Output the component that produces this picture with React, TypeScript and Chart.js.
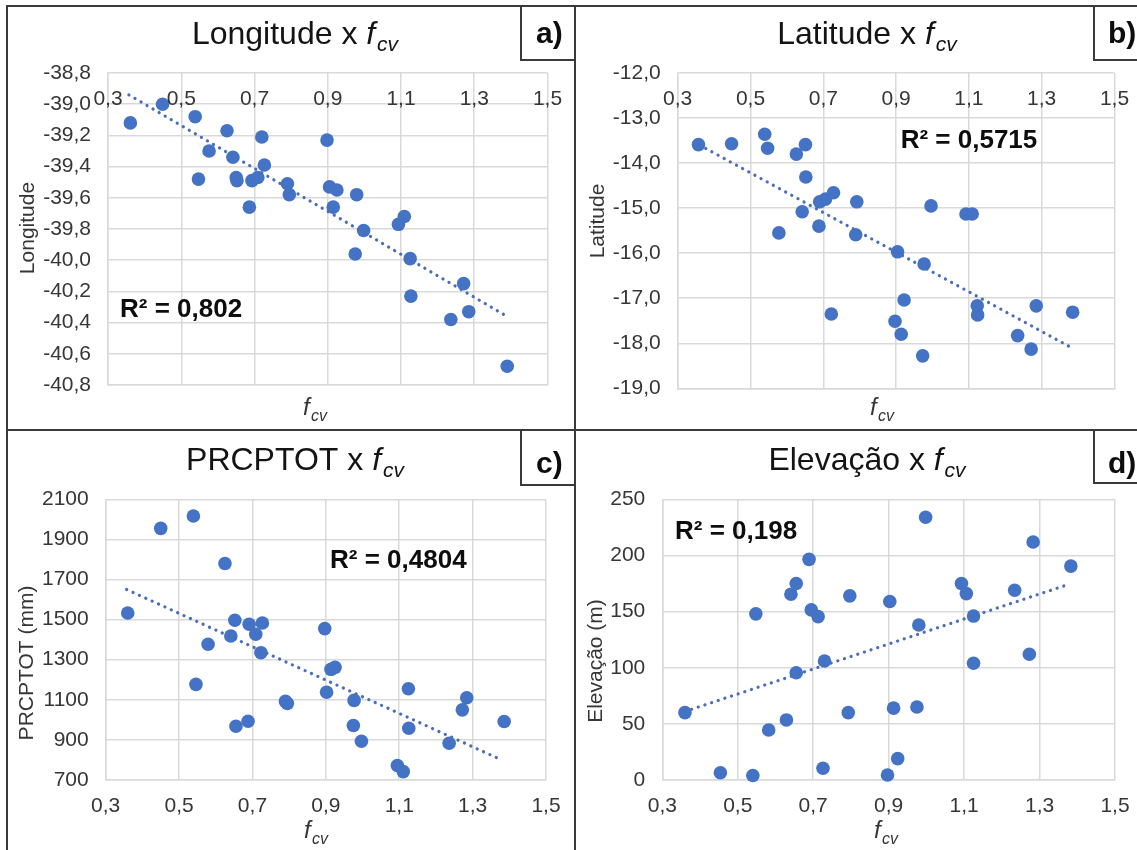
import React, { useEffect, useRef } from 'react';
import { Chart, registerables } from 'chart.js';

Chart.register(...registerables);

const FONT = '"Liberation Sans", Arial, Helvetica, sans-serif';
const BLUE = '#4472C4';
const TREND = '#4A6FB8';
const GRID = '#d9d9d9';
const TICK = '#363636';
const FRAME = '#3a3a3a';

// ---------- data ----------
const xTicksMin = 0.3;
const xTicksMax = 1.5;
const xTicksStep = 0.2;

// a) Longitude x fcv
const fcvA = [0.361, 0.449, 0.538, 0.547, 0.576, 0.625, 0.641, 0.650, 0.652, 0.686, 0.693, 0.709, 0.720, 0.727, 0.790, 0.795, 0.898, 0.905, 0.925, 0.915, 0.979, 0.975, 0.998, 1.093, 1.109, 1.125, 1.127, 1.236, 1.271, 1.285, 1.390];
const lonA = [-39.12, -39.00, -39.08, -39.48, -39.30, -39.17, -39.34, -39.47, -39.49, -39.66, -39.49, -39.47, -39.21, -39.39, -39.51, -39.58, -39.23, -39.53, -39.55, -39.66, -39.58, -39.96, -39.81, -39.77, -39.72, -39.99, -40.23, -40.38, -40.15, -40.33, -40.68];
const trendAx = [0.357, 1.382];
const trendAy = [-38.94, -40.35];

// b) Latitude x fcv
const fcvB = [0.357, 0.448, 0.539, 0.547, 0.626, 0.651, 0.652, 0.642, 0.578, 0.690, 0.706, 0.728, 0.688, 0.792, 0.789, 0.722, 0.996, 1.092, 1.109, 0.904, 0.977, 0.922, 0.897, 0.914, 0.973, 1.123, 1.124, 1.285, 1.234, 1.271, 1.385];
const latB = [-13.59, -13.57, -13.36, -13.67, -13.80, -13.59, -14.31, -15.08, -15.55, -14.86, -14.80, -14.66, -15.40, -14.86, -15.59, -17.35, -14.95, -15.13, -15.13, -15.97, -16.24, -17.04, -17.51, -17.80, -18.28, -17.17, -17.37, -17.17, -17.83, -18.13, -17.31];
const trendBx = [0.36, 1.38];
const trendBy = [-13.60, -18.09];

// c) PRCPTOT x fcv
const fcvC = [0.360, 0.450, 0.539, 0.625, 0.546, 0.579, 0.652, 0.641, 0.655, 0.688, 0.691, 0.709, 0.727, 0.723, 0.790, 0.795, 0.897, 0.914, 0.925, 0.902, 0.977, 0.975, 0.997, 1.125, 1.126, 1.095, 1.111, 1.236, 1.272, 1.284, 1.386];
const prcpC = [1533, 1955, 2017, 1780, 1177, 1377, 1497, 1418, 968, 993, 1477, 1427, 1483, 1335, 1092, 1082, 1455, 1252, 1262, 1138, 1097, 972, 893, 1155, 958, 772, 742, 883, 1050, 1110, 992];
const trendCx = [0.357, 1.379];
const trendCy = [1650, 800];

// d) Elevação x fcv
const fcvD = [0.360, 0.454, 0.540, 0.548, 0.582, 0.629, 0.641, 0.655, 0.655, 0.689, 0.695, 0.713, 0.726, 0.730, 0.797, 0.793, 0.897, 0.903, 0.913, 0.924, 0.975, 0.980, 0.998, 1.093, 1.106, 1.125, 1.125, 1.234, 1.273, 1.283, 1.383];
const elevD = [60, 6.5, 4, 148, 44.5, 53.5, 165.5, 175, 95.5, 196.5, 151.5, 145.5, 10.5, 106, 164, 60, 4.5, 159, 64, 19, 65, 138, 234, 175, 166, 146, 104, 169, 112, 212, 190.5];
const trendDx = [0.36, 1.375];
const trendDy = [61, 174];

// ---------- panel layout ----------
type Spec = {
  left: number; top: number; w: number; h: number;
  area: { l: number; t: number; r: number; b: number };
  xs: number[]; ys: number[]; tx: number[]; ty: number[];
  yMin: number; yMax: number; yStep: number; yDec: number;
  xLabelBase: number;
  title: string; titleCx: number; titleBase: number;
  yTitle: string; yTitleCy: number; yTitleBx: number;
  xTitleCx: number; xTitleBase: number;
  r2: string; r2X: number; r2Base: number;
  tag: string; tagBoxX: number; tagBoxR: number; tagBoxB: number; tagX: number; tagBase: number;
};

const panels: Spec[] = [
  {
    left: 7, top: 6, w: 568, h: 424,
    area: { l: 101, t: 67, r: 540.5, b: 379 },
    xs: fcvA, ys: lonA, tx: trendAx, ty: trendAy,
    yMin: -40.8, yMax: -38.8, yStep: 0.2, yDec: 1,
    xLabelBase: 99,
    title: 'Longitude x ', titleCx: 288, titleBase: 38,
    yTitle: 'Longitude', yTitleCy: 222, yTitleBx: 26.5,
    xTitleCx: 308, xTitleBase: 409,
    r2: 'R² = 0,802', r2X: 113, r2Base: 310.7,
    tag: 'a)', tagBoxX: 514, tagBoxR: 568, tagBoxB: 54, tagX: 529, tagBase: 37,
  },
  {
    left: 575, top: 6, w: 562, h: 424,
    area: { l: 102.7, t: 67, r: 539.5, b: 382.3 },
    xs: fcvB, ys: latB, tx: trendBx, ty: trendBy,
    yMin: -19, yMax: -12, yStep: 1, yDec: 1,
    xLabelBase: 99,
    title: 'Latitude x ', titleCx: 292, titleBase: 38,
    yTitle: 'Latitude', yTitleCy: 215, yTitleBx: 29,
    xTitleCx: 307, xTitleBase: 409,
    r2: 'R² = 0,5715', r2X: 325.7, r2Base: 142.3,
    tag: 'b)', tagBoxX: 519, tagBoxR: 562, tagBoxB: 54, tagX: 533, tagBase: 37,
  },
  {
    left: 7, top: 430, w: 568, h: 420,
    area: { l: 98.7, t: 69.3, r: 539, b: 350 },
    xs: fcvC, ys: prcpC, tx: trendCx, ty: trendCy,
    yMin: 700, yMax: 2100, yStep: 200, yDec: 0,
    xLabelBase: 381.7,
    title: 'PRCPTOT x ', titleCx: 288, titleBase: 40,
    yTitle: 'PRCPTOT (mm)', yTitleCy: 233, yTitleBx: 26,
    xTitleCx: 309, xTitleBase: 408,
    r2: 'R² = 0,4804', r2X: 323, r2Base: 138.3,
    tag: 'c)', tagBoxX: 514, tagBoxR: 568, tagBoxB: 55, tagX: 529, tagBase: 43,
  },
  {
    left: 575, top: 430, w: 562, h: 420,
    area: { l: 87.3, t: 69.3, r: 540, b: 350 },
    xs: fcvD, ys: elevD, tx: trendDx, ty: trendDy,
    yMin: 0, yMax: 250, yStep: 50, yDec: 0,
    xLabelBase: 381.7,
    title: 'Elevação x ', titleCx: 292, titleBase: 40,
    yTitle: 'Elevação (m)', yTitleCy: 231, yTitleBx: 27,
    xTitleCx: 311, xTitleBase: 408,
    r2: 'R² = 0,198', r2X: 100, r2Base: 109.3,
    tag: 'd)', tagBoxX: 519, tagBoxR: 562, tagBoxB: 53, tagX: 533, tagBase: 43,
  },
];

function fmt(v: number, dec: number) {
  return Number(v).toFixed(dec).replace('.', ',');
}

function drawFcv(ctx: CanvasRenderingContext2D, prefix: string, cx: number, base: number, size: number, sub: number, drop: number, color: string) {
  ctx.fillStyle = color;
  ctx.textAlign = 'left';
  ctx.textBaseline = 'alphabetic';
  ctx.font = `${size}px ${FONT}`;
  const w1 = prefix ? ctx.measureText(prefix).width : 0;
  ctx.font = `italic ${size}px ${FONT}`;
  const w2 = ctx.measureText('f').width;
  ctx.font = `italic ${sub}px ${FONT}`;
  const w3 = ctx.measureText('cv').width;
  const gap = size * 0.06;
  let x = cx - (w1 + w2 + gap + w3) / 2;
  if (prefix) {
    ctx.font = `${size}px ${FONT}`;
    ctx.fillText(prefix, x, base);
    x += w1;
  }
  ctx.font = `italic ${size}px ${FONT}`;
  ctx.fillText('f', x, base);
  x += w2 + gap;
  ctx.font = `italic ${sub}px ${FONT}`;
  ctx.fillText('cv', x, base + drop);
}

function Panel({ s }: { s: Spec }) {
  const ref = useRef<HTMLCanvasElement>(null);
  useEffect(() => {
    const canvas = ref.current;
    if (!canvas) return;
    const overlay = {
      id: 'overlay',
      afterDraw(chart: any) {
        const ctx: CanvasRenderingContext2D = chart.ctx;
        ctx.save();
        // x tick labels
        const xs = chart.scales.x;
        ctx.font = `21px ${FONT}`;
        ctx.fillStyle = TICK;
        ctx.textAlign = 'center';
        ctx.textBaseline = 'alphabetic';
        xs.ticks.forEach((t: any) => {
          ctx.fillText(fmt(t.value, 1), xs.getPixelForValue(t.value), s.xLabelBase);
        });
        // chart title
        drawFcv(ctx, s.title, s.titleCx, s.titleBase, 32, 21, 7, '#141414');
        // x axis title
        drawFcv(ctx, '', s.xTitleCx, s.xTitleBase, 24, 16, 6, TICK);
        // y axis title
        ctx.save();
        ctx.translate(s.yTitleBx, s.yTitleCy);
        ctx.rotate(-Math.PI / 2);
        ctx.font = `21px ${FONT}`;
        ctx.fillStyle = TICK;
        ctx.textAlign = 'center';
        ctx.textBaseline = 'alphabetic';
        ctx.fillText(s.yTitle, 0, 0);
        ctx.restore();
        // R² label
        ctx.font = `bold 26px ${FONT}`;
        ctx.fillStyle = '#0d0d0d';
        ctx.textAlign = 'left';
        ctx.fillText(s.r2, s.r2X, s.r2Base);
        // tag box
        ctx.strokeStyle = FRAME;
        ctx.lineWidth = 2;
        ctx.beginPath();
        ctx.moveTo(s.tagBoxX, 0);
        ctx.lineTo(s.tagBoxX, s.tagBoxB);
        ctx.lineTo(s.tagBoxR, s.tagBoxB);
        ctx.stroke();
        ctx.font = `bold 30px ${FONT}`;
        ctx.fillStyle = '#0d0d0d';
        ctx.fillText(s.tag, s.tagX, s.tagBase);
        ctx.restore();
      },
    };
    const chart = new Chart(canvas, {
      type: 'scatter',
      data: {
        datasets: [
          {
            data: s.tx.map((x, i) => ({ x, y: s.ty[i] })),
            showLine: true,
            pointRadius: 0,
            borderColor: TREND,
            backgroundColor: TREND,
            borderWidth: 3.2,
            borderDash: [0.1, 6.9],
            borderCapStyle: 'round',
            fill: false,
            clip: false,
          } as any,
          {
            data: s.xs.map((x, i) => ({ x, y: s.ys[i] })),
            pointRadius: 6.8,
            pointBackgroundColor: BLUE,
            pointBorderColor: BLUE,
            pointBorderWidth: 0,
            backgroundColor: BLUE,
            borderColor: BLUE,
            showLine: false,
            clip: false,
          } as any,
        ],
      },
      options: {
        responsive: false,
        animation: false,
        devicePixelRatio: 1,
        events: [],
        layout: { padding: { left: 0, top: s.area.t, right: s.w - s.area.r, bottom: 0 } },
        plugins: { legend: { display: false }, tooltip: { enabled: false }, title: { display: false } },
        scales: {
          x: {
            type: 'linear',
            position: 'bottom',
            min: xTicksMin,
            max: xTicksMax,
            ticks: { display: false, stepSize: xTicksStep },
            grid: { color: GRID, lineWidth: 1.5, drawTicks: false },
            border: { color: GRID, width: 1.5 },
            afterFit: (sc: any) => { sc.height = s.h - s.area.b; },
          },
          y: {
            type: 'linear',
            min: s.yMin,
            max: s.yMax,
            ticks: {
              stepSize: s.yStep,
              autoSkip: false,
              padding: 17,
              color: TICK,
              font: { family: FONT, size: 21 },
              callback: (v: any) => fmt(Number(v), s.yDec),
            },
            grid: { color: GRID, lineWidth: 1.5, drawTicks: false },
            border: { color: GRID, width: 1.5 },
            afterFit: (sc: any) => { sc.width = s.area.l; },
          },
        },
      } as any,
      plugins: [overlay],
    });
    return () => chart.destroy();
  }, [s]);
  return (
    <canvas
      ref={ref}
      width={s.w}
      height={s.h}
      style={{ position: 'absolute', left: s.left, top: s.top, width: s.w, height: s.h }}
    />
  );
}

const line = (l: number, t: number, w: number, h: number) => (
  <div style={{ position: 'absolute', left: l, top: t, width: w, height: h, background: FRAME }} />
);

export default function App() {
  return (
    <div style={{ position: 'absolute', left: 0, top: 0, width: 1137, height: 850, background: '#fff', overflow: 'hidden' }}>
      {panels.map((p, i) => <Panel key={i} s={p} />)}
      {line(6, 5, 1131, 2)}
      {line(6, 5, 2, 845)}
      {line(574, 5, 2, 845)}
      {line(6, 429, 1131, 2)}
    </div>
  );
}
